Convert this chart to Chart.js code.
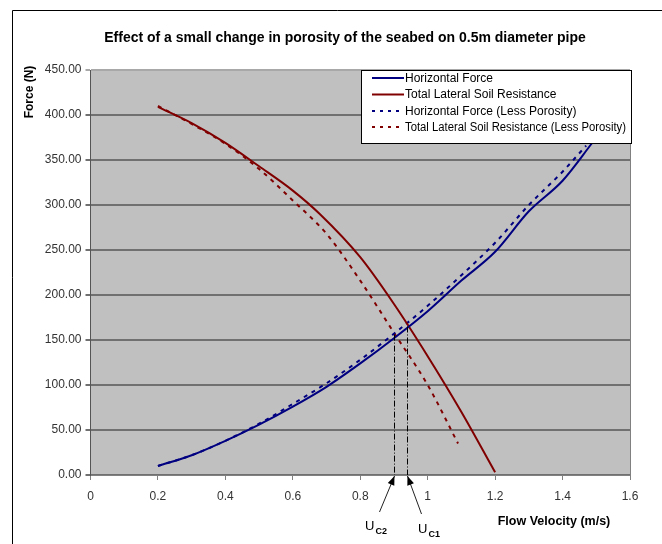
<!DOCTYPE html>
<html>
<head>
<meta charset="utf-8">
<script src="https://cdn.jsdelivr.net/npm/chart.js@4.4.1/dist/chart.umd.min.js"></script>
<style>
  html, body { margin: 0; padding: 0; background: #fff; }
  #wrap { width: 662px; height: 544px; }
</style>
</head>
<body>
<div id="wrap"><canvas id="porosityChart" width="662" height="544"></canvas></div>
<script>
// data
const hfVel = [0.2, 0.3, 0.4, 0.5, 0.6, 0.7, 0.8, 0.9, 1.0, 1.1, 1.2, 1.3, 1.4, 1.49];
const hfForce = [10, 22, 38, 56, 76, 98, 124, 152, 182, 216, 248, 293, 327, 370];

const tlsVel = [0.2, 0.3, 0.4, 0.5, 0.6, 0.68, 0.8, 0.9, 1.0, 1.1, 1.2];
const tlsForce = [409, 391, 369, 343, 316, 290, 242, 190, 132, 70, 3];

const hflVel = [0.2, 0.3, 0.4, 0.5, 0.6, 0.7, 0.8, 0.9, 1.0, 1.1, 1.2, 1.3, 1.4, 1.47];
const hflForce = [10, 22, 38, 57, 79, 102, 128, 157, 188, 222, 258, 300, 337, 366];

const tlslVel = [0.2, 0.3, 0.4, 0.5, 0.6, 0.7, 0.8, 0.9, 1.0, 1.09];
const tlslForce = [410, 390, 368, 340, 305, 268, 216, 158, 100, 35];

const seriesNames = [
    "Horizontal Force",
    "Total Lateral Soil Resistance",
    "Horizontal Force (Less Porosity)",
    "Total Lateral Soil Resistance (Less Porosity)"
];

// critical velocities (where the curves cross)
const ucVel = [0.9, 0.94];
const ucForce = [156, 165];
const ucNames = ["C2", "C1"];

const xTicks = [0, 0.2, 0.4, 0.6, 0.8, 1, 1.2, 1.4, 1.6];

const titleText = "Effect of a small change in porosity of the seabed on 0.5m diameter pipe";
const xTitle = "Flow Velocity (m/s)";
const yTitle = "Force (N)";

const FONT = "'Liberation Sans', Arial, sans-serif";
const NAVY = "#000080";
const MAROON = "#800000";

function pts(xs, ys) {
    return xs.map((x, i) => ({ x: x, y: ys[i] }));
}

const dashStyle = [4, 5];

// extra drawing: frame, title, legend, axis titles, Uc markers
const decor = {
    id: "decor",
    beforeDraw(chart) {
        const c = chart.ctx;
        const a = chart.chartArea;
        c.save();
        c.fillStyle = "#fff";
        c.fillRect(0, 0, chart.width, chart.height);
        c.fillStyle = "#c0c0c0";
        c.fillRect(a.left, a.top, a.right - a.left, a.bottom - a.top);
        c.restore();
    },
    afterDraw(chart) {
        const c = chart.ctx;
        const a = chart.chartArea;
        const xs = chart.scales.x;
        const ys = chart.scales.y;
        c.save();

        // outer frame
        c.strokeStyle = "#000";
        c.lineWidth = 1;
        c.beginPath();
        c.moveTo(12.5, 544);
        c.lineTo(12.5, 10.5);
        c.lineTo(662, 10.5);
        c.stroke();

        // plot right edge
        c.strokeStyle = "#808080";
        c.beginPath();
        c.moveTo(a.right + 0.5, a.top);
        c.lineTo(a.right + 0.5, a.bottom);
        c.stroke();

        // title
        c.fillStyle = "#000";
        c.font = "bold 14px " + FONT;
        c.textAlign = "center";
        c.textBaseline = "middle";
        c.fillText(titleText, 345, 38, 482);

        // y title
        c.save();
        c.translate(30, 92);
        c.rotate(-Math.PI / 2);
        c.font = "bold 12px " + FONT;
        c.fillText(yTitle, 0, 0);
        c.restore();

        // x title
        c.font = "bold 12.5px " + FONT;
        c.fillText(xTitle, 554, 522, 114);

        // Uc lines and arrows
        const tails = [[-15, 37], [14, 39]];
        const labPos = [[365, 530], [418, 533]];
        for (let i = 0; i < ucVel.length; i++) {
            const px = Math.round(xs.getPixelForValue(ucVel[i])) + 0.5;
            const py = ys.getPixelForValue(ucForce[i]);
            c.strokeStyle = "#000";
            c.lineWidth = 1;
            c.setLineDash([6, 2, 1, 2]);
            c.beginPath();
            c.moveTo(px, py);
            c.lineTo(px, a.bottom);
            c.stroke();
            c.setLineDash([]);

            const tx = px, ty = a.bottom + 1;
            const bx = px + tails[i][0], by = a.bottom + tails[i][1];
            c.strokeStyle = "#222";
            c.beginPath();
            c.moveTo(bx, by);
            c.lineTo(tx, ty);
            c.stroke();
            const ang = Math.atan2(ty - by, tx - bx);
            c.fillStyle = "#000";
            c.beginPath();
            c.moveTo(tx, ty);
            c.lineTo(tx - 9 * Math.cos(ang) + 3.5 * Math.sin(ang), ty - 9 * Math.sin(ang) - 3.5 * Math.cos(ang));
            c.lineTo(tx - 9 * Math.cos(ang) - 3.5 * Math.sin(ang), ty - 9 * Math.sin(ang) + 3.5 * Math.cos(ang));
            c.closePath();
            c.fill();

            c.textAlign = "left";
            c.textBaseline = "alphabetic";
            c.font = "13px " + FONT;
            c.fillText("U", labPos[i][0], labPos[i][1]);
            const uw = c.measureText("U").width;
            c.font = "bold 9px " + FONT;
            c.fillText(ucNames[i], labPos[i][0] + uw + 1, labPos[i][1] + 4);
        }

        // legend
        const lx = 361, ly = 70, lw = 270, lh = 73;
        c.fillStyle = "#fff";
        c.fillRect(lx, ly, lw, lh);
        c.strokeStyle = "#000";
        c.lineWidth = 1;
        c.strokeRect(lx + 0.5, ly + 0.5, lw, lh);
        const rowY = [78, 94.5, 111, 127];
        const colors = [NAVY, MAROON, NAVY, MAROON];
        c.font = "12px " + FONT;
        c.textAlign = "left";
        c.textBaseline = "middle";
        for (let i = 0; i < seriesNames.length; i++) {
            c.strokeStyle = colors[i];
            c.lineWidth = 2;
            c.setLineDash(i > 1 ? [3, 5] : []);
            c.beginPath();
            c.moveTo(372, rowY[i]);
            c.lineTo(404, rowY[i]);
            c.stroke();
            c.setLineDash([]);
            c.fillStyle = "#000";
            c.fillText(seriesNames[i], 405, rowY[i] + 0.5, 221);
        }
        c.restore();
    }
};

new Chart(document.getElementById("porosityChart"), {
    type: "scatter",
    data: {
        datasets: [
            {
                label: seriesNames[0],
                data: pts(hfVel, hfForce),
                borderColor: NAVY,
                borderWidth: 2
            },
            {
                label: seriesNames[1],
                data: pts(tlsVel, tlsForce),
                borderColor: MAROON,
                borderWidth: 2
            },
            {
                label: seriesNames[2],
                data: pts(hflVel, hflForce),
                borderColor: NAVY,
                borderWidth: 2,
                borderDash: dashStyle
            },
            {
                label: seriesNames[3],
                data: pts(tlslVel, tlslForce),
                borderColor: MAROON,
                borderWidth: 2,
                borderDash: dashStyle
            }
        ]
    },
    options: {
        responsive: false,
        animation: false,
        devicePixelRatio: 1,
        layout: { padding: { left: 12, right: 32, top: 70, bottom: 0 } },
        elements: {
            point: { radius: 0, hoverRadius: 0 },
            line: { fill: false, tension: 0.35, cubicInterpolationMode: "monotone" }
        },
        datasets: { scatter: { showLine: true } },
        plugins: {
            legend: { display: false },
            tooltip: { enabled: false }
        },
        scales: {
            x: {
                type: "linear",
                min: 0,
                max: 1.6,
                afterFit: s => { s.height = 69; },
                afterBuildTicks: s => { s.ticks = xTicks.map(v => ({ value: v })); },
                ticks: {
                    padding: 9,
                    color: "#333",
                    font: { family: FONT, size: 12 },
                    callback: v => String(Math.round(v * 10) / 10)
                },
                grid: { drawOnChartArea: false, tickLength: 5, color: "#808080" },
                border: { color: "#808080" }
            },
            y: {
                type: "linear",
                min: 0,
                max: 450,
                afterFit: s => { s.width = 78.5; },
                ticks: {
                    stepSize: 50,
                    padding: 4,
                    color: "#333",
                    font: { family: FONT, size: 12 },
                    callback: v => v.toFixed(2)
                },
                grid: {
                    tickLength: 5,
                    lineWidth: 2,
                    color: ctx => (ctx.tick && ctx.tick.value === 450 ? "#a8a8a8" : "#707070")
                },
                border: { color: "#555" }
            }
        }
    },
    plugins: [decor]
});
</script>
</body>
</html>
